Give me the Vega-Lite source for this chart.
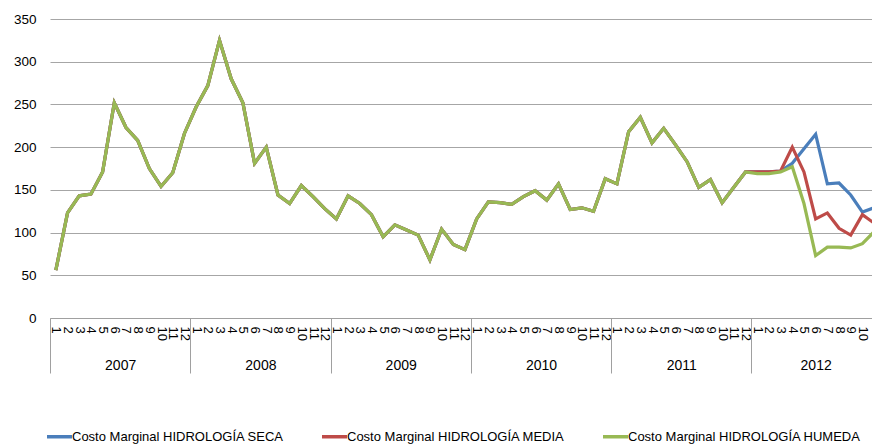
{
  "$schema": "https://vega.github.io/schema/vega-lite/v6.json",
  "autosize": "none",
  "width": 822,
  "height": 299,
  "padding": {"left": 50, "top": 19, "right": 0, "bottom": 128},
  "background": "white",
  "config": {
    "view": {"stroke": null},
    "font": "Liberation Sans",
    "axis": {"labelFont": "Liberation Sans", "labelColor": "#000000"},
    "legend": {"labelFont": "Liberation Sans", "labelColor": "#000000"}
  },
  "data": {
    "values": [
      {"t": 1, "anio": 2007, "mes": 1, "seca": 56, "media": 56, "humeda": 56},
      {"t": 2, "anio": 2007, "mes": 2, "seca": 123, "media": 123, "humeda": 123},
      {"t": 3, "anio": 2007, "mes": 3, "seca": 143, "media": 143, "humeda": 143},
      {"t": 4, "anio": 2007, "mes": 4, "seca": 145, "media": 145, "humeda": 145},
      {"t": 5, "anio": 2007, "mes": 5, "seca": 171, "media": 171, "humeda": 171},
      {"t": 6, "anio": 2007, "mes": 6, "seca": 252, "media": 252, "humeda": 252},
      {"t": 7, "anio": 2007, "mes": 7, "seca": 223, "media": 223, "humeda": 223},
      {"t": 8, "anio": 2007, "mes": 8, "seca": 208, "media": 208, "humeda": 208},
      {"t": 9, "anio": 2007, "mes": 9, "seca": 175, "media": 175, "humeda": 175},
      {"t": 10, "anio": 2007, "mes": 10, "seca": 154, "media": 154, "humeda": 154},
      {"t": 11, "anio": 2007, "mes": 11, "seca": 170, "media": 170, "humeda": 170},
      {"t": 12, "anio": 2007, "mes": 12, "seca": 216, "media": 216, "humeda": 216},
      {"t": 13, "anio": 2008, "mes": 1, "seca": 247, "media": 247, "humeda": 247},
      {"t": 14, "anio": 2008, "mes": 2, "seca": 272, "media": 272, "humeda": 272},
      {"t": 15, "anio": 2008, "mes": 3, "seca": 325, "media": 325, "humeda": 325},
      {"t": 16, "anio": 2008, "mes": 4, "seca": 280, "media": 280, "humeda": 280},
      {"t": 17, "anio": 2008, "mes": 5, "seca": 252, "media": 252, "humeda": 252},
      {"t": 18, "anio": 2008, "mes": 6, "seca": 181, "media": 181, "humeda": 181},
      {"t": 19, "anio": 2008, "mes": 7, "seca": 200, "media": 200, "humeda": 200},
      {"t": 20, "anio": 2008, "mes": 8, "seca": 144, "media": 144, "humeda": 144},
      {"t": 21, "anio": 2008, "mes": 9, "seca": 134, "media": 134, "humeda": 134},
      {"t": 22, "anio": 2008, "mes": 10, "seca": 155, "media": 155, "humeda": 155},
      {"t": 23, "anio": 2008, "mes": 11, "seca": 142, "media": 142, "humeda": 142},
      {"t": 24, "anio": 2008, "mes": 12, "seca": 128, "media": 128, "humeda": 128},
      {"t": 25, "anio": 2009, "mes": 1, "seca": 116, "media": 116, "humeda": 116},
      {"t": 26, "anio": 2009, "mes": 2, "seca": 143, "media": 143, "humeda": 143},
      {"t": 27, "anio": 2009, "mes": 3, "seca": 134, "media": 134, "humeda": 134},
      {"t": 28, "anio": 2009, "mes": 4, "seca": 121, "media": 121, "humeda": 121},
      {"t": 29, "anio": 2009, "mes": 5, "seca": 95, "media": 95, "humeda": 95},
      {"t": 30, "anio": 2009, "mes": 6, "seca": 109, "media": 109, "humeda": 109},
      {"t": 31, "anio": 2009, "mes": 7, "seca": 103, "media": 103, "humeda": 103},
      {"t": 32, "anio": 2009, "mes": 8, "seca": 97, "media": 97, "humeda": 97},
      {"t": 33, "anio": 2009, "mes": 9, "seca": 68, "media": 68, "humeda": 68},
      {"t": 34, "anio": 2009, "mes": 10, "seca": 104, "media": 104, "humeda": 104},
      {"t": 35, "anio": 2009, "mes": 11, "seca": 86, "media": 86, "humeda": 86},
      {"t": 36, "anio": 2009, "mes": 12, "seca": 80, "media": 80, "humeda": 80},
      {"t": 37, "anio": 2010, "mes": 1, "seca": 116, "media": 116, "humeda": 116},
      {"t": 38, "anio": 2010, "mes": 2, "seca": 136, "media": 136, "humeda": 136},
      {"t": 39, "anio": 2010, "mes": 3, "seca": 135, "media": 135, "humeda": 135},
      {"t": 40, "anio": 2010, "mes": 4, "seca": 133, "media": 133, "humeda": 133},
      {"t": 41, "anio": 2010, "mes": 5, "seca": 142, "media": 142, "humeda": 142},
      {"t": 42, "anio": 2010, "mes": 6, "seca": 149, "media": 149, "humeda": 149},
      {"t": 43, "anio": 2010, "mes": 7, "seca": 138, "media": 138, "humeda": 138},
      {"t": 44, "anio": 2010, "mes": 8, "seca": 157, "media": 157, "humeda": 157},
      {"t": 45, "anio": 2010, "mes": 9, "seca": 127, "media": 127, "humeda": 127},
      {"t": 46, "anio": 2010, "mes": 10, "seca": 129, "media": 129, "humeda": 129},
      {"t": 47, "anio": 2010, "mes": 11, "seca": 125, "media": 125, "humeda": 125},
      {"t": 48, "anio": 2010, "mes": 12, "seca": 163, "media": 163, "humeda": 163},
      {"t": 49, "anio": 2011, "mes": 1, "seca": 157, "media": 157, "humeda": 157},
      {"t": 50, "anio": 2011, "mes": 2, "seca": 218, "media": 218, "humeda": 218},
      {"t": 51, "anio": 2011, "mes": 3, "seca": 235, "media": 235, "humeda": 235},
      {"t": 52, "anio": 2011, "mes": 4, "seca": 205, "media": 205, "humeda": 205},
      {"t": 53, "anio": 2011, "mes": 5, "seca": 222, "media": 222, "humeda": 222},
      {"t": 54, "anio": 2011, "mes": 6, "seca": 203, "media": 203, "humeda": 203},
      {"t": 55, "anio": 2011, "mes": 7, "seca": 183, "media": 183, "humeda": 183},
      {"t": 56, "anio": 2011, "mes": 8, "seca": 153, "media": 153, "humeda": 153},
      {"t": 57, "anio": 2011, "mes": 9, "seca": 162, "media": 162, "humeda": 162},
      {"t": 58, "anio": 2011, "mes": 10, "seca": 135, "media": 135, "humeda": 135},
      {"t": 59, "anio": 2011, "mes": 11, "seca": 153, "media": 153, "humeda": 153},
      {"t": 60, "anio": 2011, "mes": 12, "seca": 171, "media": 171, "humeda": 171},
      {"t": 61, "anio": 2012, "mes": 1, "seca": 171, "media": 171, "humeda": 169},
      {"t": 62, "anio": 2012, "mes": 2, "seca": 171, "media": 171, "humeda": 169},
      {"t": 63, "anio": 2012, "mes": 3, "seca": 172, "media": 172, "humeda": 171},
      {"t": 64, "anio": 2012, "mes": 4, "seca": 181, "media": 200, "humeda": 177},
      {"t": 65, "anio": 2012, "mes": 5, "seca": 198, "media": 171, "humeda": 134},
      {"t": 66, "anio": 2012, "mes": 6, "seca": 215, "media": 116, "humeda": 73},
      {"t": 67, "anio": 2012, "mes": 7, "seca": 157, "media": 123, "humeda": 83},
      {"t": 68, "anio": 2012, "mes": 8, "seca": 158, "media": 105, "humeda": 83},
      {"t": 69, "anio": 2012, "mes": 9, "seca": 144, "media": 97, "humeda": 82},
      {"t": 70, "anio": 2012, "mes": 10, "seca": 124, "media": 121, "humeda": 87},
      {"t": 71, "anio": 2012, "mes": 11, "seca": 129, "media": 111, "humeda": 101}
    ]
  },
  "layer": [
    {
      "mark": {"type": "point", "opacity": 0},
      "encoding": {
        "x": {
          "field": "t", "type": "quantitative",
          "scale": {"domain": [0.5, 70.82], "nice": false, "zero": false},
          "axis": {
            "orient": "bottom",
            "title": null,
            "values": [1,3,5,7,9,11,13,15,17,19,21,23,25,27,29,31,33,35,37,39,41,43,45,47,49,51,53,55,57,59,61,63,65,67,69],
            "labelExpr": "'' + (((datum.value - 1) % 12) + 1)",
            "labelAngle": 90,
            "labelAlign": "left",
            "labelBaseline": "middle",
            "labelFontSize": 13,
            "labelPadding": 8,
            "labelOverlap": false,
            "labelFlush": false,
            "labelBound": false,
            "ticks": false,
            "grid": false,
            "domain": true,
            "domainColor": "#a0a0a0",
            "domainWidth": 1
          }
        }
      }
    },
    {
      "mark": {"type": "point", "opacity": 0},
      "encoding": {
        "x": {
          "field": "t", "type": "quantitative",
          "scale": {"domain": [0.5, 70.82], "nice": false, "zero": false},
          "axis": {
            "orient": "bottom",
            "title": null,
            "values": [2,4,6,8,10,12,14,16,18,20,22,24,26,28,30,32,34,36,38,40,42,44,46,48,50,52,54,56,58,60,62,64,66,68,70],
            "labelExpr": "'' + (((datum.value - 1) % 12) + 1)",
            "labelAngle": 90,
            "labelAlign": "left",
            "labelBaseline": "middle",
            "labelFontSize": 13,
            "labelPadding": 8,
            "labelOverlap": false,
            "labelFlush": false,
            "labelBound": false,
            "ticks": false,
            "grid": false,
            "domain": false
          }
        }
      }
    },
    {
      "mark": {"type": "point", "opacity": 0},
      "encoding": {
        "x": {
          "field": "t", "type": "quantitative",
          "scale": {"domain": [0.5, 70.82], "nice": false, "zero": false},
          "axis": {
            "orient": "bottom",
            "title": null,
            "values": [0.5, 6.5, 12.5, 18.5, 24.5, 30.5, 36.5, 42.5, 48.5, 54.5, 60.5, 66],
            "labelExpr": "(datum.value - 0.5) % 12 == 0 ? '' : '' + (2007 + floor((datum.value - 0.5) / 12))",
            "labelAngle": 0,
            "labelAlign": "center",
            "labelBaseline": "middle",
            "labelFontSize": 14,
            "labelPadding": -8,
            "labelOverlap": false,
            "labelFlush": false,
            "labelBound": false,
            "ticks": true,
            "tickSize": 55,
            "tickColor": "#a0a0a0",
            "tickWidth": 1,
            "tickOpacity": {"expr": "(datum.value - 0.5) % 12 == 0 ? 1 : 0"},
            "grid": false,
            "domain": false
          }
        }
      }
    },
    {
      "layer": [
        {
          "mark": {"type": "line", "strokeWidth": 3.2, "clip": true, "strokeJoin": "miter"},
          "encoding": {
            "x": {
              "field": "t", "type": "quantitative",
              "scale": {"domain": [0.5, 70.82], "nice": false, "zero": false},
              "axis": null
            },
            "y": {
              "field": "seca", "type": "quantitative",
              "scale": {"domain": [0, 350], "nice": false},
              "axis": {
                "title": null,
                "values": [0, 50, 100, 150, 200, 250, 300, 350],
                "grid": true,
                "gridColor": "#a6a6a6",
                "gridWidth": 1,
                "domain": false,
                "ticks": false,
                "tickSize": 0,
                "labelPadding": 14,
                "labelFontSize": 13.5
              }
            },
            "color": {
              "datum": "Costo Marginal HIDROLOGÍA SECA",
              "type": "nominal",
              "scale": {
                "domain": ["Costo Marginal HIDROLOGÍA SECA", "Costo Marginal HIDROLOGÍA MEDIA", "Costo Marginal HIDROLOGÍA HUMEDA"],
                "range": ["#4a7ebb", "#be4b48", "#98b954"]
              },
              "legend": {
                "title": null,
                "orient": "none",
                "direction": "horizontal",
                "legendX": -5,
                "legendY": 403,
                "symbolType": "stroke",
                "symbolSize": 625,
                "symbolStrokeWidth": 3.5,
                "labelFontSize": 13,
                "labelOffset": -2,
                "columnPadding": 31,
                "padding": 0,
                "labelLimit": 400
              }
            }
          }
        },
        {
          "mark": {"type": "line", "strokeWidth": 3.2, "clip": true, "strokeJoin": "miter"},
          "encoding": {
            "x": {"field": "t", "type": "quantitative", "axis": null},
            "y": {"field": "media", "type": "quantitative"},
            "color": {"datum": "Costo Marginal HIDROLOGÍA MEDIA", "type": "nominal"}
          }
        },
        {
          "mark": {"type": "line", "strokeWidth": 3.2, "clip": true, "strokeJoin": "miter"},
          "encoding": {
            "x": {"field": "t", "type": "quantitative", "axis": null},
            "y": {"field": "humeda", "type": "quantitative"},
            "color": {"datum": "Costo Marginal HIDROLOGÍA HUMEDA", "type": "nominal"}
          }
        }
      ]
    }
  ],
  "resolve": {"scale": {"x": "independent"}, "axis": {"x": "independent"}}
}
